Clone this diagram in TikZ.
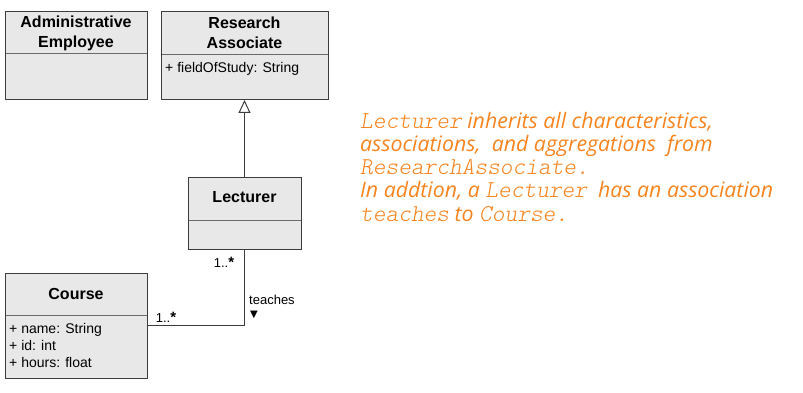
\documentclass[tikz,border=0pt]{standalone}
\usepackage{fontspec}
\setmainfont{Liberation Sans}
\newfontfamily\notefont{Open Sans}
\newfontfamily\codefont{Latin Modern Mono Light}
\newfontfamily\symfont{DejaVu Sans}
\usetikzlibrary{arrows.meta}
\definecolor{boxfill}{HTML}{E8E8E8}
\definecolor{boxline}{HTML}{3C3C3C}
\definecolor{divline}{HTML}{6A6A6A}
\definecolor{notecol}{HTML}{F7841E}
\newcommand{\cd}[1]{{\codefont\itshape\fontsize{24.2}{23}\selectfont #1}}
\begin{document}
\begin{tikzpicture}[x=1pt,y=-1pt,
  umlbox/.style={draw=boxline, fill=boxfill, line width=1pt, inner sep=0pt, outer sep=0pt, anchor=north west},
  classtitle/.style={font=\fontsize{16}{20}\selectfont\bfseries, align=center, inner sep=0pt},
  attr/.style={font=\fontsize{14}{17}\selectfont, anchor=west, inner sep=0pt, align=left},
  divider/.style={draw=divline, line width=1pt},
  link/.style={draw=boxline, line width=1pt},
  mult/.style={font=\fontsize{13}{15}\selectfont, inner sep=0pt},
  notetxt/.style={font=\notefont\itshape\fontsize{21.3}{23}\selectfont, text=notecol, anchor=base west, inner sep=0pt}]
\useasboundingbox (0,0) rectangle (803,393);

% Administrative Employee
\node[umlbox, minimum width=142pt, minimum height=88pt] (admin) at (5,12) {};
\draw[divider] (5.5,54) -- (146.5,54);
\node[classtitle] (adminT) at (76,33) {Administrative\\Employee};

% Research Associate
\node[umlbox, minimum width=167pt, minimum height=88pt] (ra) at (161,12) {};
\draw[divider] (161.5,55) -- (327.5,55);
\node[classtitle] (raT) at (244.5,33) {Research\\Associate};
\node[attr] (raA) at (165,69) {+ fieldOfStudy: String};

% Lecturer
\node[umlbox, minimum width=113pt, minimum height=72pt] (lect) at (188,177) {};
\draw[divider] (188.5,220) -- (300.5,220);
\node[classtitle] (lectT) at (244.5,197.5) {Lecturer};

% Course
\node[umlbox, minimum width=142pt, minimum height=105pt] (course) at (5,273) {};
\draw[divider] (5.5,315) -- (146.5,315);
\node[classtitle] (courseT) at (76,293.5) {Course};
\node[attr, anchor=north west] (courseA) at (9,323.5) {+ name: String\\+ id: int\\+ hours: float};

% Generalization
\draw[link, -{Triangle[open, length=13pt, width=12pt, fill=white]}] (lect.north) -- (ra.south);

% Association
\draw[link] (lect.south) |- (course.east);
\node[mult] (m1) at (224,262) {1..{\fontsize{15}{15}\selectfont\bfseries *}};
\node[mult] (m2) at (166,317) {1..{\fontsize{15}{15}\selectfont\bfseries *}};
\node[mult, anchor=west] (teach) at (249,300) {teaches};
\node[inner sep=0pt, font=\symfont\fontsize{10}{10}\selectfont] (dir) at (254,315) {▼};

% Note
\node[notetxt] (n1) at (360,129) {\cd{Lecturer} inherits all characteristics,};
\node[notetxt] (n2) at (360,152) {associations,\ \ and aggregations\ \ from};
\node[notetxt] (n3) at (360,175) {\cd{ResearchAssociate.}};
\node[notetxt] (n4) at (360,197) {In addtion, a \cd{Lecturer}\ \ has an association};
\node[notetxt] (n5) at (360,221) {\cd{teaches} to \cd{Course.}};
\end{tikzpicture}
\end{document}
